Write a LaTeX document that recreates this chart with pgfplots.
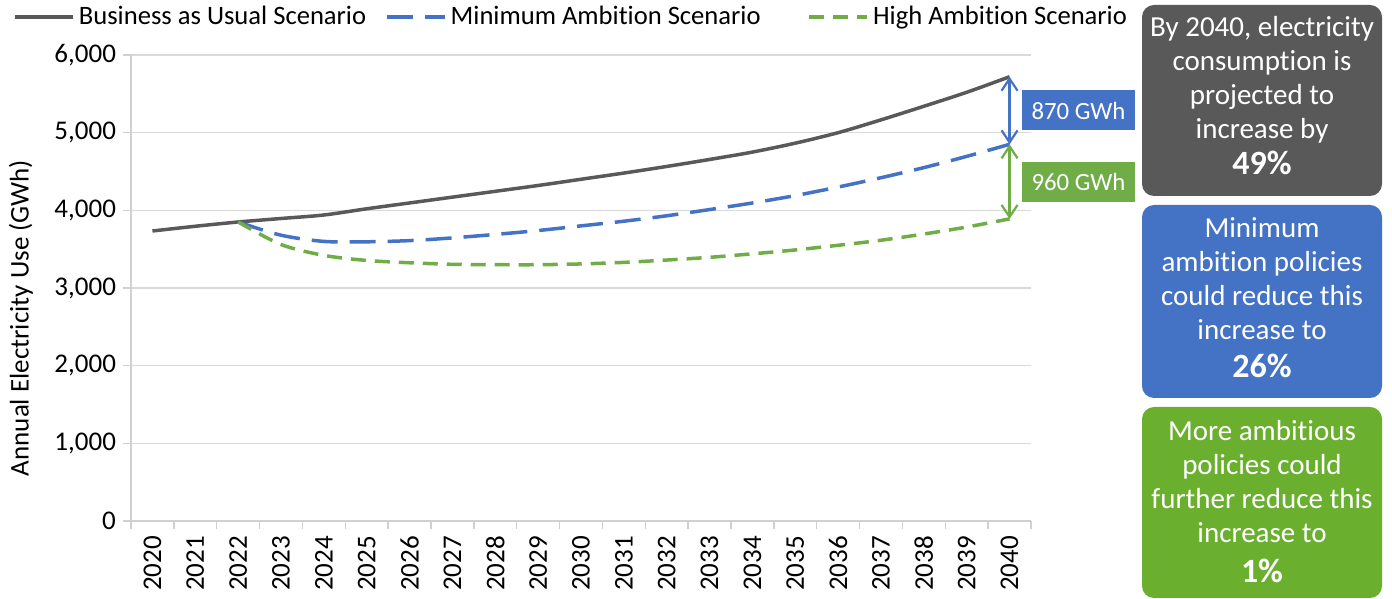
\documentclass[border=0pt]{standalone}
\usepackage{pgfplots}
\pgfplotsset{compat=1.18}
\usepackage{fontspec}
\setmainfont{Carlito}[Ligatures={NoCommon,NoRare,NoDiscretionary}]
\usetikzlibrary{arrows.meta}
\definecolor{bau}{HTML}{595959}
\definecolor{minb}{HTML}{4472C4}
\definecolor{higg}{HTML}{70AD47}
\definecolor{boxg}{HTML}{6AB02E}
\definecolor{gridc}{HTML}{D9D9D9}
\definecolor{axc}{HTML}{D0D0D0}
\newcommand{\tf}{\fontsize{13.5}{16}\selectfont}
\newcommand{\boxfont}{\fontsize{14.5}{17}\selectfont}
\begin{document}
\begin{tikzpicture}
\path[use as bounding box] (0,0) rectangle (696pt,299.5pt);
\begin{axis}[
  at={(65.5pt,39pt)}, anchor=south west,
  scale only axis, width=450pt, height=233pt,
  xmin=-0.5, xmax=20.5, ymin=0, ymax=6000,
  axis x line*=bottom, axis y line*=left,
  axis line style={draw=axc, line width=0.75pt, -},
  xtick={0,...,20},
  xticklabels={2020,2021,2022,2023,2024,2025,2026,2027,2028,2029,2030,2031,2032,2033,2034,2035,2036,2037,2038,2039,2040},
  minor xtick={-0.5,0.5,...,20.5},
  major x tick style={draw=none},
  minor x tick style={draw=axc, line width=0.75pt},
  y tick style={draw=axc, line width=0.75pt},
  tick align=outside,
  major tick length=4pt, minor tick length=4pt,
  ytick={0,1000,...,6000},
  ymajorgrids, grid style={draw=gridc, line width=0.75pt},
  /pgf/number format/.cd, 1000 sep={,}, assume math mode=true, /pgfplots/.cd,
  tick label style={font=\tf, text=black},
  xticklabel style={rotate=90, anchor=east},
  ylabel={Annual Electricity Use (GWh)},
  every axis y label/.style={at={(axis description cs:-0.1222,0.4356)}, rotate=90, anchor=center, font=\tf},
  legend columns=3,
  legend image code/.code={\draw[#1] (0pt,0pt) -- (29pt,0pt);},
  legend style={at={(axis description cs:-0.1311,1.0815)}, anchor=west, draw=none, fill=none,
    font=\fontsize{13.3}{16}\selectfont, inner sep=0pt,
    /tikz/column 2/.style={column sep=7.5pt},
    /tikz/column 4/.style={column sep=21.5pt}},
]
\addplot[bau, line width=1.75pt, smooth, tension=0.5] coordinates {
(0,3734) (1,3795) (2,3850) (3,3895) (4,3940) (5,4020) (6,4095) (7,4170) (8,4245) (9,4320) (10,4400)
(11,4480) (12,4565) (13,4655) (14,4750) (15,4865) (16,5000) (17,5165) (18,5340) (19,5520) (20,5720)};
\addlegendentry{Business as Usual Scenario}
\addplot[minb, line width=1.75pt, smooth, tension=0.5, dash pattern=on 13pt off 6pt] coordinates {
(2,3850) (3,3680) (4,3600) (5,3595) (6,3610) (7,3645) (8,3690) (9,3740) (10,3800)
(11,3860) (12,3930) (13,4010) (14,4095) (15,4190) (16,4300) (17,4420) (18,4550) (19,4695) (20,4850)};
\addlegendentry{Minimum Ambition Scenario}
\addplot[higg, line width=1.75pt, smooth, tension=0.5, dash pattern=on 7.5pt off 4.5pt] coordinates {
(2,3850) (3,3560) (4,3420) (5,3355) (6,3325) (7,3305) (8,3300) (9,3300) (10,3310)
(11,3330) (12,3360) (13,3395) (14,3440) (15,3490) (16,3550) (17,3615) (18,3695) (19,3785) (20,3890)};
\addlegendentry{High Ambition Scenario}
\draw[minb, line width=1.1pt, {Straight Barb[length=6pt,width=8pt,line width=1.1pt]}-{Straight Barb[length=6pt,width=8pt,line width=1.1pt]}] (axis cs:20,5720) -- (axis cs:20,4850);
\draw[higg, line width=1.1pt, {Straight Barb[length=6pt,width=8pt,line width=1.1pt]}-{Straight Barb[length=6pt,width=8pt,line width=1.1pt]}] (axis cs:20,4850) -- (axis cs:20,3890);
\end{axis}
% value labels
\node[fill=minb, text=white, minimum width=56.5pt, minimum height=20pt, inner sep=0pt, font=\fontsize{12.4}{14}\selectfont] at (539.25pt,244.25pt) {870 GWh};
\node[fill=higg, text=white, minimum width=56.5pt, minimum height=20pt, inner sep=0pt, font=\fontsize{12.4}{14}\selectfont] at (539.25pt,208.5pt) {960 GWh};
% side boxes
\fill[bau, rounded corners=6pt] (571pt,201.5pt) rectangle (691pt,297pt);
\fill[minb, rounded corners=6pt] (571pt,100.5pt) rectangle (691pt,197pt);
\fill[boxg, rounded corners=6pt] (571pt,0.5pt) rectangle (691pt,96pt);
\node[text=white, align=center, font=\boxfont] at (631pt,251.5pt) {By 2040, electricity\\consumption is\\projected to\\increase by\\[1pt]{\fontsize{17}{17}\selectfont\bfseries 49\%}};
\node[text=white, align=center, font=\boxfont] at (631pt,150.5pt) {Minimum\\ambition policies\\could reduce this\\increase to\\[2pt]{\fontsize{17}{17}\selectfont\bfseries 26\%}};
\node[text=white, align=center, font=\boxfont] at (631pt,48.5pt) {More ambitious\\policies could\\further reduce this\\increase to\\[3pt]{\fontsize{17}{17}\selectfont\bfseries 1\%}};
\end{tikzpicture}
\end{document}
